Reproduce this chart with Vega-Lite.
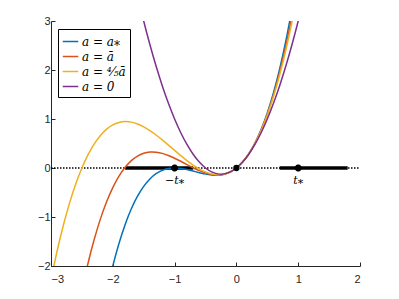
{
  "$schema": "https://vega.github.io/schema/vega-lite/v6.json",
  "width": 309,
  "height": 245,
  "autosize": "none",
  "padding": {"left": 51, "top": 21, "right": 39, "bottom": 33},
  "background": "white",
  "config": {
    "view": {"stroke": null},
    "axis": {
      "domainColor": "#262626", "tickColor": "#262626", "labelColor": "#262626",
      "labelFont": "Liberation Sans", "labelFontSize": 11, "grid": false,
      "tickSize": -4, "tickWidth": 1, "domainWidth": 1, "title": null
    }
  },
  "datasets": {
    "curves": [
      {"s":"a = a⁎","t":-2.1,"y":-2.541},{"s":"a = a⁎","t":-2.0,"y":-2},{"s":"a = a⁎","t":-1.9,"y":-1.539},{"s":"a = a⁎","t":-1.8,"y":-1.152},{"s":"a = a⁎","t":-1.7,"y":-0.833},{"s":"a = a⁎","t":-1.6,"y":-0.576},{"s":"a = a⁎","t":-1.5,"y":-0.375},{"s":"a = a⁎","t":-1.4,"y":-0.224},{"s":"a = a⁎","t":-1.3,"y":-0.117},{"s":"a = a⁎","t":-1.2,"y":-0.048},{"s":"a = a⁎","t":-1.1,"y":-0.011},{"s":"a = a⁎","t":-1.0,"y":0},{"s":"a = a⁎","t":-0.9,"y":-0.009},{"s":"a = a⁎","t":-0.8,"y":-0.032},{"s":"a = a⁎","t":-0.7,"y":-0.063},{"s":"a = a⁎","t":-0.6,"y":-0.096},{"s":"a = a⁎","t":-0.5,"y":-0.125},{"s":"a = a⁎","t":-0.4,"y":-0.144},{"s":"a = a⁎","t":-0.3,"y":-0.147},{"s":"a = a⁎","t":-0.2,"y":-0.128},{"s":"a = a⁎","t":-0.1,"y":-0.081},{"s":"a = a⁎","t":0,"y":0},{"s":"a = a⁎","t":0.1,"y":0.121},{"s":"a = a⁎","t":0.2,"y":0.288},{"s":"a = a⁎","t":0.3,"y":0.507},{"s":"a = a⁎","t":0.4,"y":0.784},{"s":"a = a⁎","t":0.5,"y":1.125},{"s":"a = a⁎","t":0.6,"y":1.536},{"s":"a = a⁎","t":0.7,"y":2.023},{"s":"a = a⁎","t":0.8,"y":2.592},{"s":"a = a⁎","t":0.9,"y":3.249},
      {"s":"a = ā","t":-2.5,"y":-2.5},{"s":"a = ā","t":-2.4,"y":-1.939},{"s":"a = ā","t":-2.3,"y":-1.454},{"s":"a = ā","t":-2.2,"y":-1.038},{"s":"a = ā","t":-2.1,"y":-0.689},{"s":"a = ā","t":-2.0,"y":-0.4},{"s":"a = ā","t":-1.9,"y":-0.167},{"s":"a = ā","t":-1.8,"y":0.014},{"s":"a = ā","t":-1.7,"y":0.150},{"s":"a = ā","t":-1.6,"y":0.243},{"s":"a = ā","t":-1.5,"y":0.3},{"s":"a = ā","t":-1.4,"y":0.325},{"s":"a = ā","t":-1.3,"y":0.322},{"s":"a = ā","t":-1.2,"y":0.298},{"s":"a = ā","t":-1.1,"y":0.255},{"s":"a = ā","t":-1.0,"y":0.2},{"s":"a = ā","t":-0.9,"y":0.137},{"s":"a = ā","t":-0.8,"y":0.070},{"s":"a = ā","t":-0.7,"y":0.006},{"s":"a = ā","t":-0.6,"y":-0.053},{"s":"a = ā","t":-0.5,"y":-0.1},{"s":"a = ā","t":-0.4,"y":-0.131},{"s":"a = ā","t":-0.3,"y":-0.142},{"s":"a = ā","t":-0.2,"y":-0.126},{"s":"a = ā","t":-0.1,"y":-0.081},{"s":"a = ā","t":0,"y":0},{"s":"a = ā","t":0.1,"y":0.121},{"s":"a = ā","t":0.2,"y":0.286},{"s":"a = ā","t":0.3,"y":0.502},{"s":"a = ā","t":0.4,"y":0.771},{"s":"a = ā","t":0.5,"y":1.1},{"s":"a = ā","t":0.6,"y":1.493},{"s":"a = ā","t":0.7,"y":1.954},{"s":"a = ā","t":0.8,"y":2.490},{"s":"a = ā","t":0.9,"y":3.103},
      {"s":"a = ⁴⁄₅ā","t":-3.0,"y":-2.28},{"s":"a = ⁴⁄₅ā","t":-2.9,"y":-1.689},{"s":"a = ⁴⁄₅ā","t":-2.8,"y":-1.169},{"s":"a = ⁴⁄₅ā","t":-2.7,"y":-0.717},{"s":"a = ⁴⁄₅ā","t":-2.6,"y":-0.329},{"s":"a = ⁴⁄₅ā","t":-2.5,"y":0},{"s":"a = ⁴⁄₅ā","t":-2.4,"y":0.273},{"s":"a = ⁴⁄₅ā","t":-2.3,"y":0.493},{"s":"a = ⁴⁄₅ā","t":-2.2,"y":0.665},{"s":"a = ⁴⁄₅ā","t":-2.1,"y":0.793},{"s":"a = ⁴⁄₅ā","t":-2.0,"y":0.88},{"s":"a = ⁴⁄₅ā","t":-1.9,"y":0.930},{"s":"a = ⁴⁄₅ā","t":-1.8,"y":0.948},{"s":"a = ⁴⁄₅ā","t":-1.7,"y":0.936},{"s":"a = ⁴⁄₅ā","t":-1.6,"y":0.899},{"s":"a = ⁴⁄₅ā","t":-1.5,"y":0.84},{"s":"a = ⁴⁄₅ā","t":-1.4,"y":0.764},{"s":"a = ⁴⁄₅ā","t":-1.3,"y":0.674},{"s":"a = ⁴⁄₅ā","t":-1.2,"y":0.574},{"s":"a = ⁴⁄₅ā","t":-1.1,"y":0.468},{"s":"a = ⁴⁄₅ā","t":-1.0,"y":0.36},{"s":"a = ⁴⁄₅ā","t":-0.9,"y":0.253},{"s":"a = ⁴⁄₅ā","t":-0.8,"y":0.152},{"s":"a = ⁴⁄₅ā","t":-0.7,"y":0.060},{"s":"a = ⁴⁄₅ā","t":-0.6,"y":-0.018},{"s":"a = ⁴⁄₅ā","t":-0.5,"y":-0.08},{"s":"a = ⁴⁄₅ā","t":-0.4,"y":-0.121},{"s":"a = ⁴⁄₅ā","t":-0.3,"y":-0.137},{"s":"a = ⁴⁄₅ā","t":-0.2,"y":-0.125},{"s":"a = ⁴⁄₅ā","t":-0.1,"y":-0.081},{"s":"a = ⁴⁄₅ā","t":0,"y":0},{"s":"a = ⁴⁄₅ā","t":0.1,"y":0.121},{"s":"a = ⁴⁄₅ā","t":0.2,"y":0.285},{"s":"a = ⁴⁄₅ā","t":0.3,"y":0.497},{"s":"a = ⁴⁄₅ā","t":0.4,"y":0.761},{"s":"a = ⁴⁄₅ā","t":0.5,"y":1.08},{"s":"a = ⁴⁄₅ā","t":0.6,"y":1.458},{"s":"a = ⁴⁄₅ā","t":0.7,"y":1.900},{"s":"a = ⁴⁄₅ā","t":0.8,"y":2.408},{"s":"a = ⁴⁄₅ā","t":0.9,"y":2.987},{"s":"a = ⁴⁄₅ā","t":1.0,"y":3.64},
      {"s":"a = 0","t":-1.6,"y":3.52},{"s":"a = 0","t":-1.5,"y":3},{"s":"a = 0","t":-1.4,"y":2.52},{"s":"a = 0","t":-1.3,"y":2.08},{"s":"a = 0","t":-1.2,"y":1.68},{"s":"a = 0","t":-1.1,"y":1.32},{"s":"a = 0","t":-1.0,"y":1},{"s":"a = 0","t":-0.9,"y":0.72},{"s":"a = 0","t":-0.8,"y":0.48},{"s":"a = 0","t":-0.7,"y":0.28},{"s":"a = 0","t":-0.6,"y":0.12},{"s":"a = 0","t":-0.5,"y":0},{"s":"a = 0","t":-0.4,"y":-0.08},{"s":"a = 0","t":-0.3,"y":-0.12},{"s":"a = 0","t":-0.2,"y":-0.12},{"s":"a = 0","t":-0.1,"y":-0.08},{"s":"a = 0","t":0,"y":0},{"s":"a = 0","t":0.1,"y":0.12},{"s":"a = 0","t":0.2,"y":0.28},{"s":"a = 0","t":0.3,"y":0.48},{"s":"a = 0","t":0.4,"y":0.72},{"s":"a = 0","t":0.5,"y":1},{"s":"a = 0","t":0.6,"y":1.32},{"s":"a = 0","t":0.7,"y":1.68},{"s":"a = 0","t":0.8,"y":2.08},{"s":"a = 0","t":0.9,"y":2.52},{"s":"a = 0","t":1.0,"y":3},{"s":"a = 0","t":1.1,"y":3.52}
    ],
    "segs": [{"t":-1.8,"t2":-0.7},{"t":0.7,"t2":1.8}],
    "axisline": [{"t":-3,"t2":2}],
    "stars": [{"t":-1},{"t":1}],
    "dots": [{"t":0}],
    "labels": [{"t":-1,"y":-0.27,"txt":"−t⁎"},{"t":1,"y":-0.27,"txt":"t⁎"}]
  },
  "encoding": {
    "x": {"field":"t","type":"quantitative","scale":{"domain":[-3,2],"nice":false,"zero":false},
      "axis":{"values":[-3,-2,-1,0,1,2],"labelPadding":11,"format":"d"}}
  },
  "layer": [
    {
      "data": {"name":"axisline"},
      "mark": {"type":"rule","color":"black","strokeWidth":1.5,"strokeDash":[1.5,1.5]},
      "encoding": {"x2":{"field":"t2"},"y":{"datum":0,"type":"quantitative","scale":{"domain":[-2,3],"nice":false,"zero":false},"axis":{"values":[-2,-1,0,1,2,3],"labelPadding":5,"format":"d"}}}
    },
    {
      "data": {"name":"segs"},
      "mark": {"type":"rule","color":"black","strokeWidth":3.5},
      "encoding": {"x2":{"field":"t2"},"y":{"datum":0,"type":"quantitative"}}
    },
    {
      "data": {"name":"curves"},
      "mark": {"type":"line","clip":true,"strokeWidth":1.5,"interpolate":"natural"},
      "encoding": {
        "y": {"field":"y","type":"quantitative"},
        "color": {"field":"s","type":"nominal",
          "scale":{"domain":["a = a⁎","a = ā","a = ⁴⁄₅ā","a = 0"],"range":["#0072BD","#D95319","#EDB120","#7E2F8E"]},
          "legend":{"title":null,"orient":"none","legendX":7,"legendY":8,"strokeColor":"black","fillColor":"white","padding":4,
            "symbolType":"stroke","symbolSize":240,"symbolStrokeWidth":1.5,"labelFont":"DejaVu Serif","labelFontStyle":"italic","labelFontSize":12,"labelColor":"black","rowPadding":0,"labelOffset":3,"labelLimit":200}}
      }
    },
    {
      "data": {"name":"stars"},
      "mark": {"type":"point","shape":"M-1,0L1,0M0,-1L0,1M-0.7,-0.7L0.7,0.7M-0.7,0.7L0.7,-0.7","stroke":"black","strokeWidth":2.5,"size":50,"opacity":1},
      "encoding": {"y":{"datum":0,"type":"quantitative"}}
    },
    {
      "data": {"name":"dots"},
      "mark": {"type":"point","shape":"circle","filled":true,"color":"black","size":40,"opacity":1},
      "encoding": {"y":{"datum":0,"type":"quantitative"}}
    },
    {
      "data": {"name":"labels"},
      "mark": {"type":"text","font":"DejaVu Serif","fontStyle":"italic","fontSize":11,"color":"black","baseline":"middle"},
      "encoding": {"y":{"field":"y","type":"quantitative"},"text":{"field":"txt"}}
    }
  ]
}
